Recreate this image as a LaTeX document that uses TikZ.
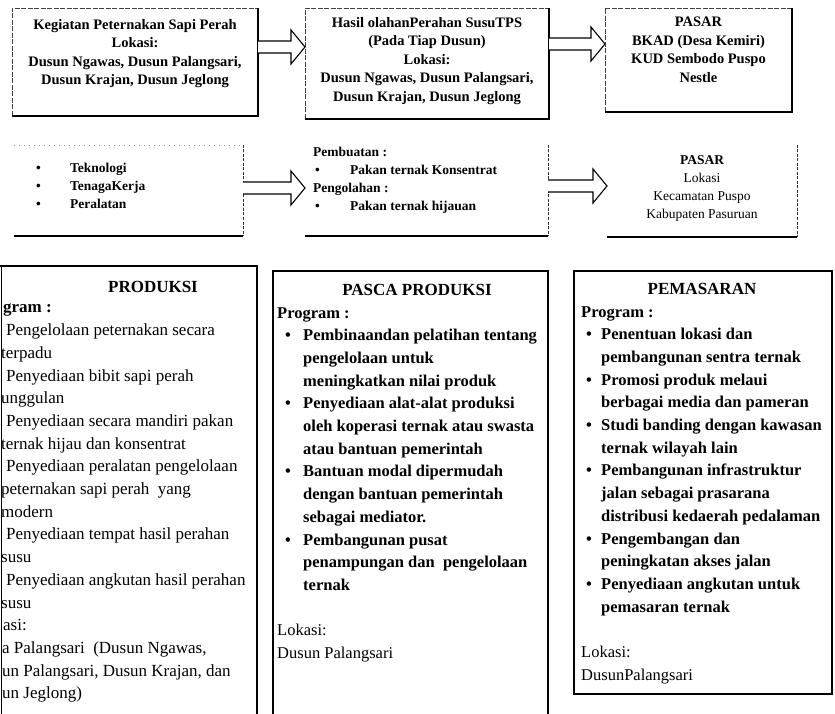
\documentclass[tikz,border=0pt]{standalone}
\usepackage{fontspec}
\setmainfont{Liberation Serif}
\usetikzlibrary{calc}
\newcommand{\bul}[3]{\makebox[#1][l]{\hspace*{#2}\textbullet}#3}
\newcommand{\cont}[2]{\hspace*{#1}#2}
\newcommand{\blockarr}[3]{%
  \draw[blockarrow] let \p1=(#1.east), \p2=(#2.west), \p3=(#3) in
    (\x1,\y3+6pt) -- (\x2-14pt,\y3+6pt) -- (\x2-14pt,\y3+17pt) -- (\x2,\y3)
    -- (\x2-14pt,\y3-17pt) -- (\x2-14pt,\y3-6pt) -- (\x1,\y3-6pt);}
\tikzset{
  frame/.style={rectangle, inner sep=0pt, outer sep=0pt, anchor=north west},
  solidedge/.style={line width=1.1pt, black},
  lightedge/.style={line width=0.6pt, black!75, dash pattern=on 5pt off 1.5pt},
  dashedge/.style={line width=0.7pt, black!80, dash pattern=on 3pt off 1.5pt},
  faintedge/.style={line width=0.5pt, black!40, dash pattern=on 1pt off 4pt},
  thinedge/.style={line width=0.6pt, black},
  blockarrow/.style={line width=1.1pt, draw=black, fill=white, line join=miter},
  toptext/.style={inner sep=0pt, align=center, anchor=north, font=\fontsize{14.5}{18.5}\selectfont\bfseries},
  midtext/.style={inner sep=0pt, align=left, anchor=north west, font=\fontsize{13.5}{18}\selectfont\bfseries},
  midctext/.style={inner sep=0pt, align=center, anchor=north, font=\fontsize{13.5}{18}\selectfont\bfseries},
  titletext/.style={inner sep=0pt, anchor=north, font=\fontsize{17}{22.7}\selectfont\bfseries},
  prodtext/.style={inner sep=0pt, align=left, anchor=north west, font=\fontsize{17}{22.7}\selectfont},
  itemtext/.style={inner sep=0pt, align=left, anchor=north west, font=\fontsize{16.5}{22.7}\selectfont\bfseries}
}
\begin{document}
\begin{tikzpicture}[x={(1pt,0pt)}, y={(0pt,-1pt)}]
\useasboundingbox (0,0) rectangle (835,714);
\fill[white] (0,0) rectangle (835,714);

% ---------- row 1 ----------
\node[frame, minimum width=246pt, minimum height=108pt] (b1) at (12,8) {};
\node[frame, minimum width=244pt, minimum height=111pt] (b2) at (305,8) {};
\node[frame, minimum width=187pt, minimum height=104pt] (b3) at (605,8) {};
\foreach \b in {b1,b2,b3}{
  \draw[lightedge] (\b.south west) -- (\b.north west) -- (\b.north east);
  \draw[solidedge] (\b.north east) -- (\b.south east) -- (\b.south west);
}
\node[toptext] (t1) at (135,19) {Kegiatan Peternakan Sapi Perah\\Lokasi:\\Dusun Ngawas, Dusun Palangsari,\\Dusun Krajan, Dusun Jeglong};
\node[toptext] (t2) at (427,17) {Hasil olahanPerahan SusuTPS\\(Pada Tiap Dusun)\\Lokasi:\\Dusun Ngawas, Dusun Palangsari,\\Dusun Krajan, Dusun Jeglong};
\node[toptext] (t3) at (698.5,17) {PASAR\\BKAD (Desa Kemiri)\\KUD Sembodo Puspo\\Nestle};
\coordinate (ya) at (0,47);
\coordinate (yb) at (0,44);
\blockarr{b1}{b2}{ya}
\blockarr{b2}{b3}{yb}

% ---------- row 2 ----------
\node[frame, minimum width=229pt, minimum height=91pt] (b4) at (14,145) {};
\node[frame, minimum width=243pt, minimum height=91pt] (b5) at (305,145) {};
\node[frame, minimum width=190pt, minimum height=92pt] (b6) at (607,145) {};
\draw[faintedge] (b4.north west) -- (b4.north east);
\foreach \b in {b4,b5,b6}{
  \draw[dashedge] (\b.north east) -- (\b.south east);
  \draw[solidedge] (\b.south east) -- (\b.south west);
}
\node[midtext] (t4) at (36,163) {\bul{34pt}{0pt}{Teknologi}\\\bul{34pt}{0pt}{TenagaKerja}\\\bul{34pt}{0pt}{Peralatan}};
\node[midtext] (t5) at (313,147) {Pembuatan :\\\bul{37pt}{2pt}{Pakan ternak Konsentrat}\\Pengolahan :\\\bul{37pt}{2pt}{Pakan ternak hijauan}};
\node[midctext] (t6) at (702,155) {PASAR\\{\mdseries Lokasi}\\{\mdseries Kecamatan Puspo}\\{\mdseries Kabupaten Pasuruan}};
\coordinate (yc) at (0,188);
\coordinate (yd) at (0,186);
\blockarr{b4}{b5}{yc}
\blockarr{b5}{b6}{yd}

% ---------- row 3 ----------
\node[frame, minimum width=262pt, minimum height=460pt] (b7) at (-5,266) {};
\node[frame, minimum width=275pt, minimum height=455pt] (b8) at (273,271) {};
\node[frame, minimum width=258pt, minimum height=423pt] (b9) at (574,271) {};
\draw[solidedge] (b7.north west) -- (b7.north east) -- (b7.south east);
\draw[thinedge] (1.5,266) -- (1.5,714);
\draw[solidedge] (b8.south west) -- (b8.north west) -- (b8.north east) -- (b8.south east);
\draw[solidedge] (b9.north west) rectangle (b9.south east);

\node[titletext] (h7) at (153,281) {PRODUKSI};
\node[titletext] (h8) at (417,284) {PASCA PRODUKSI};
\node[titletext] (h9) at (702,283) {PEMASARAN};

\node[prodtext] (t7) at (0,304) {%
\hspace*{3pt}\textbf{gram :}\\
\hspace*{6pt}Pengelolaan peternakan secara\\
\hspace*{1pt}terpadu\\
\hspace*{6pt}Penyediaan bibit sapi perah\\
\hspace*{1pt}unggulan\\
\hspace*{6pt}Penyediaan secara mandiri pakan\\
\hspace*{1pt}ternak hijau dan konsentrat\\
\hspace*{6pt}Penyediaan peralatan pengelolaan\\
\hspace*{1pt}peternakan sapi perah~ yang\\
\hspace*{1pt}modern\\
\hspace*{6pt}Penyediaan tempat hasil perahan\\
\hspace*{1pt}susu\\
\hspace*{6pt}Penyediaan angkutan hasil perahan\\
\hspace*{1pt}susu\\
\hspace*{3pt}asi:\\
\hspace*{2pt}a Palangsari~ (Dusun Ngawas,\\
\hspace*{2pt}un Palangsari, Dusun Krajan, dan\\
\hspace*{2pt}un Jeglong)};

\node[itemtext] (t8) at (277,307) {%
Program :\\
\bul{26pt}{8pt}{Pembinaandan pelatihan tentang}\\
\cont{26pt}{pengelolaan untuk}\\
\cont{26pt}{meningkatkan nilai produk}\\
\bul{26pt}{8pt}{Penyediaan alat-alat produksi}\\
\cont{26pt}{oleh koperasi ternak atau swasta}\\
\cont{26pt}{atau bantuan pemerintah}\\
\bul{26pt}{8pt}{Bantuan modal dipermudah}\\
\cont{26pt}{dengan bantuan pemerintah}\\
\cont{26pt}{sebagai mediator.}\\
\bul{26pt}{8pt}{Pembangunan pusat}\\
\cont{26pt}{penampungan dan~ pengelolaan}\\
\cont{26pt}{ternak}\\[22.7pt]
{\mdseries Lokasi:}\\
{\mdseries Dusun Palangsari}};

\node[itemtext] (t9) at (581,306) {%
Program :\\
\bul{20pt}{5pt}{Penentuan lokasi dan}\\
\cont{20pt}{pembangunan sentra ternak}\\
\bul{20pt}{5pt}{Promosi produk melaui}\\
\cont{20pt}{berbagai media dan pameran}\\
\bul{20pt}{5pt}{Studi banding dengan kawasan}\\
\cont{20pt}{ternak wilayah lain}\\
\bul{20pt}{5pt}{Pembangunan infrastruktur}\\
\cont{20pt}{jalan sebagai prasarana}\\
\cont{20pt}{distribusi kedaerah pedalaman}\\
\bul{20pt}{5pt}{Pengembangan dan}\\
\cont{20pt}{peningkatan akses jalan}\\
\bul{20pt}{5pt}{Penyediaan angkutan untuk}\\
\cont{20pt}{pemasaran ternak}\\[22.7pt]
{\mdseries Lokasi:}\\
{\mdseries DusunPalangsari}};
\end{tikzpicture}
\end{document}
